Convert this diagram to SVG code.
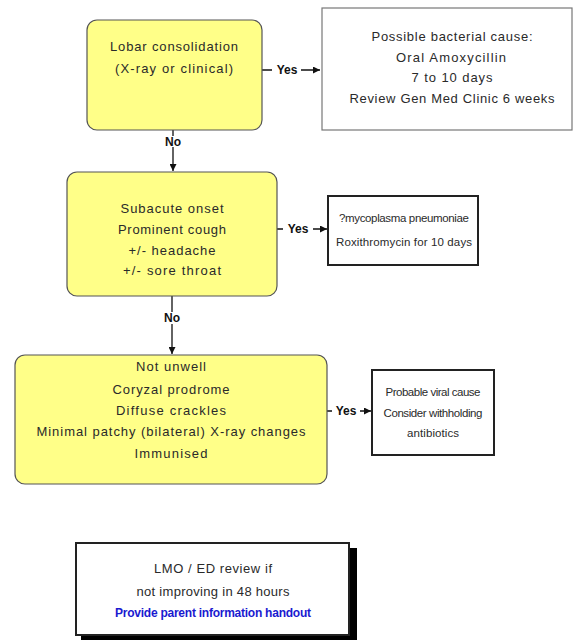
<svg xmlns="http://www.w3.org/2000/svg" width="575" height="643" viewBox="0 0 575 643">
<style>
.dec{fill:#ffff88;stroke:#555;stroke-width:1.2}
.res{fill:#fff;stroke:#222;stroke-width:2}
.res1{fill:#fff;stroke:#777;stroke-width:1.2}
text{font-family:"Liberation Sans",Arial,sans-serif;font-size:13px;fill:#2a2a2a;text-anchor:middle}
.sm{font-size:11.5px}
.lbl{font-weight:bold;font-size:12px;fill:#111}
.blue{fill:#1a1ad0;font-weight:bold;font-size:12px}
.c{stroke:#111;stroke-width:1.3;fill:none}
</style>
<defs>
<marker id="ah" viewBox="0 0 10 10" refX="10" refY="5" markerWidth="7" markerHeight="7" markerUnits="userSpaceOnUse" orient="auto">
<path d="M0,0L10,5L0,10z" fill="#111"/>
</marker>
</defs>
<rect width="575" height="643" fill="#fff"/>
<g id="connectors">
<path class="c" d="M262,70H272M301,70H320" marker-end="url(#ah)"/>
<text class="lbl" x="287" y="74">Yes</text>
<path class="c" d="M173,130V136M173,147V171" marker-end="url(#ah)"/>
<text class="lbl" x="173" y="146">No</text>
<path class="c" d="M277,229H283M313,229H327" marker-end="url(#ah)"/>
<text class="lbl" x="298" y="233">Yes</text>
<path class="c" d="M172,296V312M172,324V354" marker-end="url(#ah)"/>
<text class="lbl" x="172" y="322">No</text>
<path class="c" d="M327,411H332M360,411H371" marker-end="url(#ah)"/>
<text class="lbl" x="346" y="415">Yes</text>
</g>
<g id="n1">
<rect class="dec" x="87" y="20" width="175" height="110" rx="10"/>
<text x="174" y="51" textLength="128">Lobar consolidation</text>
<text x="174" y="73" textLength="118">(X-ray or clinical)</text>
</g>
<g id="r1">
<rect class="res1" x="322" y="8" width="250" height="122"/>
<text x="452" y="41" textLength="161">Possible bacterial cause:</text>
<text x="451" y="62" textLength="110">Oral Amoxycillin</text>
<text x="452" y="82" textLength="81">7 to 10 days</text>
<text x="452" y="103" textLength="205">Review Gen Med Clinic 6 weeks</text>
</g>
<g id="n2">
<rect class="dec" x="67" y="172" width="210" height="124" rx="10"/>
<text x="172" y="213" textLength="103">Subacute onset</text>
<text x="172" y="234" textLength="108">Prominent cough</text>
<text x="172" y="255" textLength="87">+/- headache</text>
<text x="172" y="275" textLength="98">+/- sore throat</text>
</g>
<g id="r2">
<rect class="res" x="328" y="196" width="150" height="69"/>
<text class="sm" x="404" y="222" textLength="130">?mycoplasma pneumoniae</text>
<text class="sm" x="404" y="246" textLength="136">Roxithromycin for 10 days</text>
</g>
<g id="n3">
<rect class="dec" x="15" y="355" width="312" height="129" rx="10"/>
<text x="171" y="371" textLength="70">Not unwell</text>
<text x="171" y="394" textLength="117">Coryzal prodrome</text>
<text x="171" y="415" textLength="110">Diffuse crackles</text>
<text x="171" y="436" textLength="269">Minimal patchy (bilateral) X-ray changes</text>
<text x="171" y="458" textLength="73">Immunised</text>
</g>
<g id="r3">
<rect class="res" x="372" y="370" width="122" height="85"/>
<text class="sm" x="433" y="396" textLength="95">Probable viral cause</text>
<text class="sm" x="433" y="417" textLength="99">Consider withholding</text>
<text class="sm" x="433" y="437" textLength="52">antibiotics</text>
</g>
<g id="n4">
<rect x="81" y="548" width="276" height="92" fill="#000"/>
<rect class="res" x="76" y="543" width="273" height="92"/>
<text x="213" y="573" textLength="118">LMO / ED review if</text>
<text x="213" y="596" textLength="153">not improving in 48 hours</text>
<text class="blue" x="213" y="617" textLength="196">Provide parent information handout</text>
</g>
</svg>
